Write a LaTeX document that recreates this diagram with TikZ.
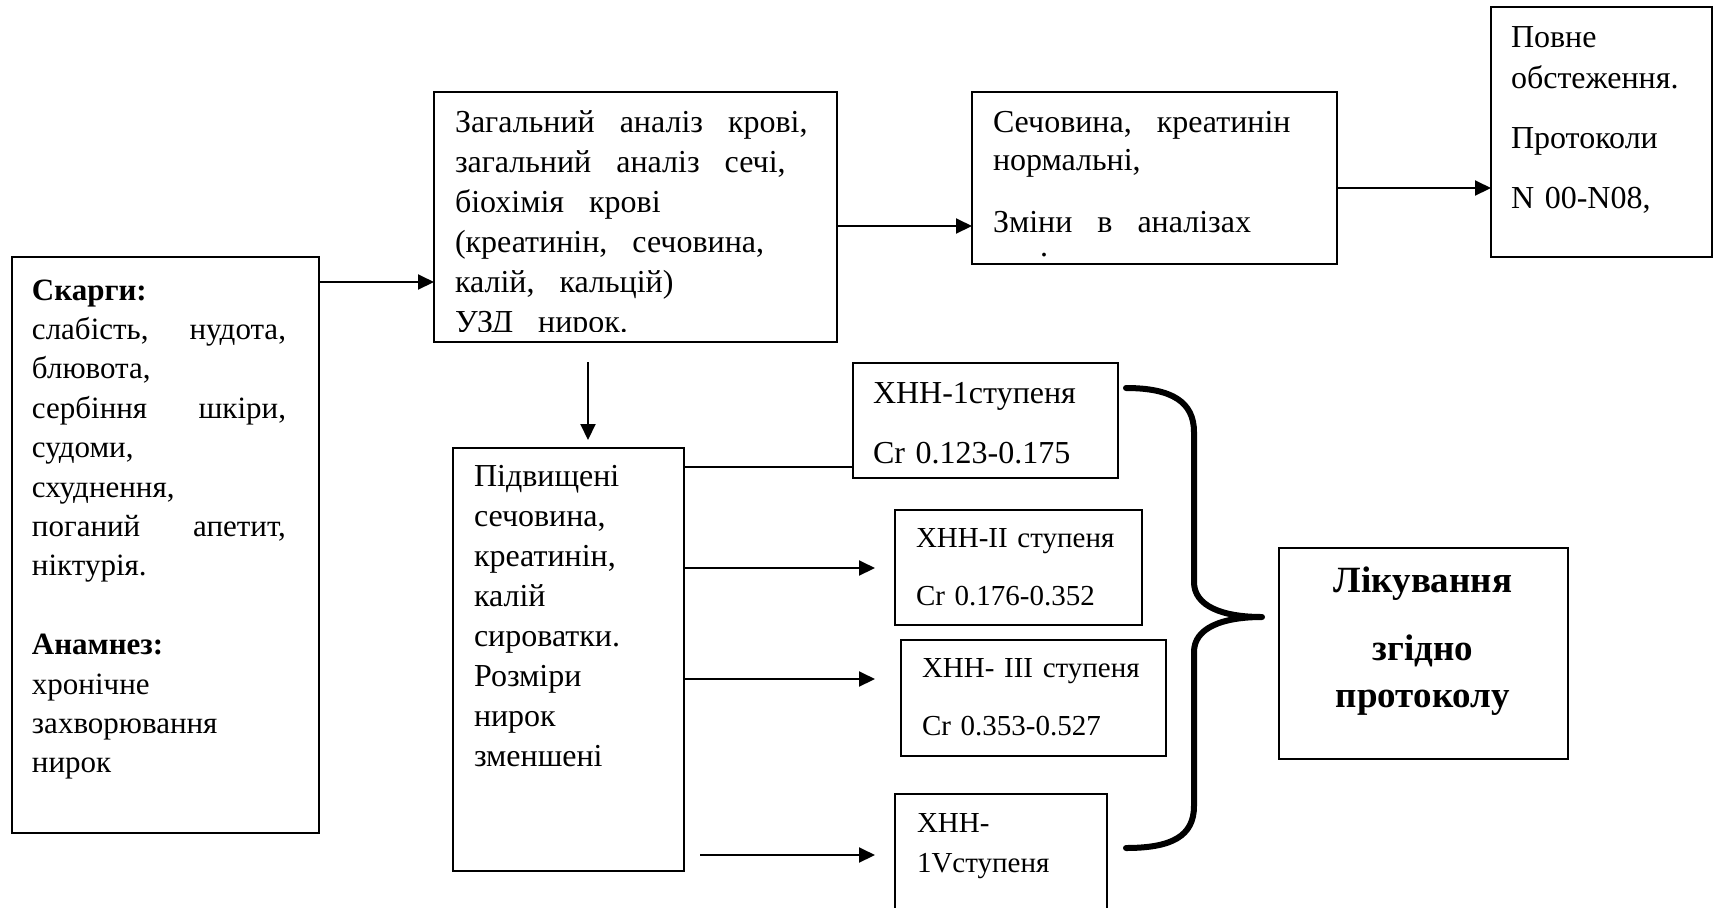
\documentclass[tikz,border=0pt]{standalone}
\usepackage{fontspec}
\setmainfont{Liberation Serif}
\usetikzlibrary{arrows.meta,fit}

\newcommand{\spread}{\hskip 0pt plus 1fill\relax}
\newcommand{\txtsize}[2]{\fontsize{#1}{#2}\selectfont}
\newcommand{\widegaps}{\spaceskip=12.5pt\relax}

\begin{document}
\begin{tikzpicture}[x=0.5pt, y=-0.5pt,
  box/.style={draw, line width=0.9pt, inner sep=0pt, outer sep=0pt},
  txt/.style={anchor=base west, inner sep=0pt, outer sep=0pt, align=left, font=\txtsize{16pt}{20pt}},
  arr/.style={line width=1pt, -{Triangle[length=8pt, width=7.5pt]}},
  link/.style={line width=1pt},
  brace/.style={line width=3pt, line cap=round, line join=round}]

  \clip (0,0) rectangle (1715,907);

  % boxes
  \node[box, fit={(12,257) (319,833)}] (complaints) {};
  \node[box, fit={(434,92) (837,342)}] (tests) {};
  \node[box, fit={(972,92) (1337,264)}] (normal) {};
  \node[box, fit={(1491,7) (1712,257)}] (fullexam) {};
  \node[box, fit={(453,448) (684,871)}] (raised) {};
  \node[box, fit={(853,363) (1118,478)}] (stageI) {};
  \node[box, fit={(895,510) (1142,625)}] (stageII) {};
  \node[box, fit={(901,640) (1166,756)}] (stageIII) {};
  \node[box, fit={(895,794) (1107,940)}] (stageIV) {};
  \node[box, fit={(1279,548) (1568,759)}] (treatment) {};

  % texts
  \node[txt, font=\txtsize{15.5pt}{19.7pt}, text width=127pt] (complaintsText) at (32,300) {\textbf{Скарги:}\\
    слабість,\spread нудота,\\
    блювота,\\
    сербіння\spread шкіри,\\
    судоми,\\
    схуднення,\\
    поганий\spread апетит,\\
    ніктурія.\\[19.7pt]
    \textbf{Анамнез:}\\
    хронічне\\
    захворювання\\
    нирок};

  \begin{scope}
    \clip (434,92) rectangle (837,331);
    \node[txt, font=\txtsize{16pt}{20pt}, text width=185pt] (testsText) at (455,132) {\widegaps Загальний аналіз крові,\\
      загальний аналіз сечі,\\
      біохімія крові\\
      (креатинін, сечовина,\\
      калій, кальцій)\\
      УЗД нирок.};
  \end{scope}

  \node[txt, font=\txtsize{16pt}{19pt}, text width=165pt] (normalText) at (993,132) {\widegaps Сечовина, креатинін\\
    нормальні,\\[12pt]
    Зміни в аналізах\\[-7pt]
    \hspace*{23.5pt}.};

  \node[txt, font=\txtsize{16pt}{20.5pt}, text width=100pt] (fullexamText) at (1511,47) {Повне\\
    обстеження.\\[9.5pt]
    Протоколи\\[9.5pt]
    N 00-N08,};

  \node[txt, text width=100pt] (raisedText) at (474,486) {Підвищені\\
    сечовина,\\
    креатинін,\\
    калій\\
    сироватки.\\
    Розміри\\
    нирок\\
    зменшені};

  \node[txt, font=\txtsize{16pt}{30pt}, text width=120pt] (stageIText) at (873,403) {ХНН-1ступеня\\ Cr 0.123-0.175};
  \node[txt, font=\txtsize{14.5pt}{29pt}, text width=120pt] (stageIIText) at (916,547) {ХНН-II ступеня\\ Cr 0.176-0.352};
  \node[txt, font=\txtsize{14.5pt}{29pt}, text width=120pt] (stageIIIText) at (922,677) {ХНН- III ступеня\\ Cr 0.353-0.527};
  \node[txt, font=\txtsize{14.5pt}{20pt}, text width=100pt] (stageIVText) at (917,832) {ХНН-\\ 1Vступеня};

  \node[txt, anchor=base, align=center, font=\bfseries\txtsize{18.5pt}{34pt}, text width=140pt] (treatmentText) at (1423,592) {Лікування\\
    згідно\\[-10.5pt]
    протоколу};

  % connectors
  \draw[arr] (complaints.east |- 0,282) -- (tests.west |- 0,282);
  \draw[arr] (tests.east |- 0,226) -- (normal.west |- 0,226);
  \draw[arr] (normal.east |- 0,188) -- (fullexam.west |- 0,188);
  \draw[arr, shorten <=10pt, shorten >=4pt] (tests.south -| 588,0) -- (raised.north -| 588,0);
  \draw[link] (raised.east |- 0,467) -- (stageI.west |- 0,467);
  \draw[arr, shorten >=10pt] (raised.east |- 0,568) -- (stageII.west |- 0,568);
  \draw[arr, shorten >=13pt] (raised.east |- 0,679) -- (stageIII.west |- 0,679);
  \draw[arr, shorten <=8pt, shorten >=10pt] (raised.east |- 0,855) -- (stageIV.west |- 0,855);

  % brace
  \draw[brace] (1126,388) .. controls (1172,388) and (1194,402) .. (1194,432)
    -- (1194,582) .. controls (1194,606) and (1222,617) .. (1262,617)
    .. controls (1222,617) and (1194,628) .. (1194,652)
    -- (1194,806) .. controls (1194,836) and (1172,848) .. (1126,848);

\end{tikzpicture}
\end{document}
